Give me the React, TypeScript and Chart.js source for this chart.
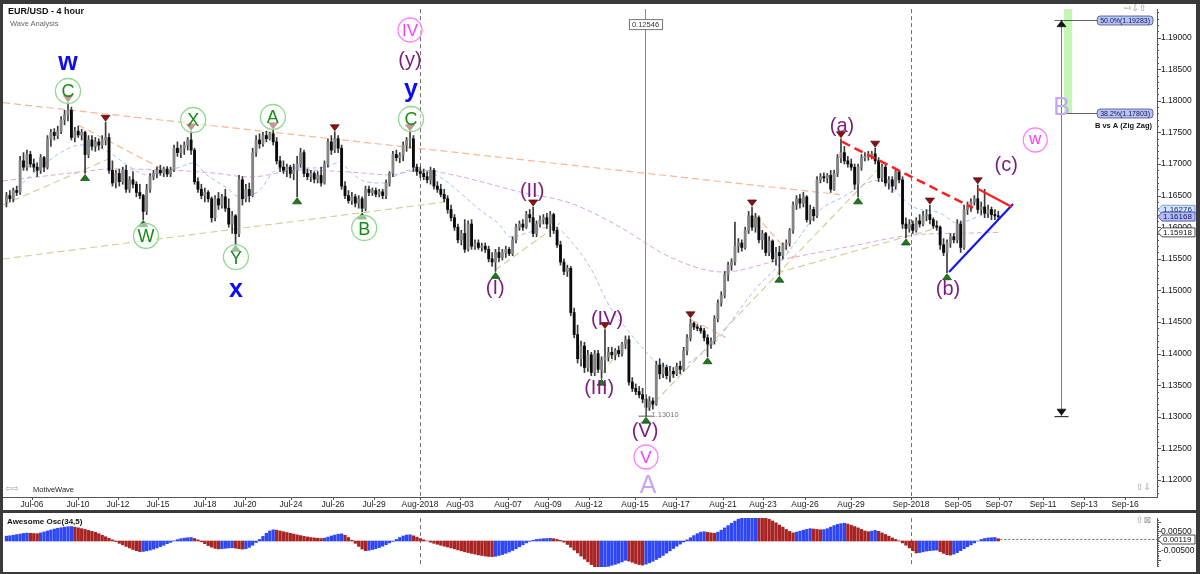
import React, { useEffect, useRef } from 'react';
import { Chart, registerables } from 'chart.js';

Chart.register(...registerables);

const FONT = "'Liberation Sans', Arial, Helvetica, sans-serif";
const ICON_FONT = "'DejaVu Sans', sans-serif";

// ---------------- DATA ----------------
// EUR/USD 4-hour candles: [open, high, low, close]
const candles: number[][] = [
  [1.1640, 1.1655, 1.1632, 1.1650], [1.1650, 1.1658, 1.1640, 1.1645], [1.1645, 1.1662, 1.1640, 1.1658], [1.1658, 1.1665, 1.1650, 1.1655],
  [1.1655, 1.1712, 1.1652, 1.1705], [1.1705, 1.1718, 1.1690, 1.1695], [1.1695, 1.1722, 1.1690, 1.1715], [1.1715, 1.1720, 1.1695, 1.1700],
  [1.1700, 1.1708, 1.1688, 1.1695], [1.1695, 1.1702, 1.1680, 1.1690], [1.1690, 1.1715, 1.1685, 1.1710], [1.1710, 1.1712, 1.1688, 1.1695],
  [1.1695, 1.1745, 1.1692, 1.1740], [1.1740, 1.1755, 1.1728, 1.1750], [1.1750, 1.1756, 1.1738, 1.1745], [1.1745, 1.1760, 1.1740, 1.1752],
  [1.1752, 1.1775, 1.1748, 1.1770], [1.1770, 1.1785, 1.1762, 1.1778], [1.1778, 1.1797, 1.1768, 1.1785], [1.1785, 1.1790, 1.1738, 1.1742],
  [1.1742, 1.1758, 1.1735, 1.1752], [1.1752, 1.1760, 1.1742, 1.1746], [1.1746, 1.1755, 1.1738, 1.1750], [1.1750, 1.1752, 1.1685, 1.1715],
  [1.1715, 1.1745, 1.1710, 1.1738], [1.1738, 1.1745, 1.1722, 1.1728], [1.1728, 1.1742, 1.1720, 1.1735], [1.1735, 1.1740, 1.1722, 1.1730],
  [1.1730, 1.1745, 1.1725, 1.1738], [1.1738, 1.1766, 1.1730, 1.1742], [1.1742, 1.1748, 1.1685, 1.1690], [1.1690, 1.1705, 1.1665, 1.1670],
  [1.1670, 1.1690, 1.1662, 1.1685], [1.1685, 1.1692, 1.1665, 1.1672], [1.1672, 1.1695, 1.1668, 1.1690], [1.1690, 1.1698, 1.1655, 1.1660],
  [1.1660, 1.1680, 1.1655, 1.1675], [1.1675, 1.1688, 1.1662, 1.1668], [1.1668, 1.1672, 1.1648, 1.1655], [1.1655, 1.1668, 1.1645, 1.1650],
  [1.1650, 1.1652, 1.1612, 1.1625], [1.1625, 1.1668, 1.1620, 1.1660], [1.1660, 1.1685, 1.1655, 1.1680], [1.1680, 1.1690, 1.1675, 1.1685],
  [1.1685, 1.1695, 1.1678, 1.1690], [1.1690, 1.1698, 1.1682, 1.1686], [1.1686, 1.1695, 1.1680, 1.1692], [1.1692, 1.1696, 1.1680, 1.1684],
  [1.1684, 1.1695, 1.1680, 1.1690], [1.1690, 1.1730, 1.1688, 1.1725], [1.1725, 1.1735, 1.1712, 1.1718], [1.1718, 1.1730, 1.1710, 1.1725],
  [1.1725, 1.1735, 1.1715, 1.1730], [1.1730, 1.1742, 1.1722, 1.1738], [1.1738, 1.1752, 1.1715, 1.1722], [1.1722, 1.1725, 1.1668, 1.1672],
  [1.1672, 1.1678, 1.1655, 1.1660], [1.1660, 1.1668, 1.1645, 1.1650], [1.1650, 1.1662, 1.1640, 1.1655], [1.1655, 1.1658, 1.1640, 1.1645],
  [1.1645, 1.1648, 1.1608, 1.1615], [1.1615, 1.1650, 1.1610, 1.1645], [1.1645, 1.1655, 1.1628, 1.1635], [1.1635, 1.1652, 1.1630, 1.1648],
  [1.1648, 1.1660, 1.1625, 1.1630], [1.1630, 1.1645, 1.1600, 1.1605], [1.1605, 1.1625, 1.1590, 1.1618], [1.1618, 1.1620, 1.1573, 1.1590],
  [1.1590, 1.1682, 1.1585, 1.1675], [1.1675, 1.1680, 1.1635, 1.1645], [1.1645, 1.1668, 1.1640, 1.1660], [1.1660, 1.1670, 1.1640, 1.1650],
  [1.1650, 1.1725, 1.1648, 1.1718], [1.1718, 1.1745, 1.1712, 1.1738], [1.1738, 1.1748, 1.1725, 1.1732], [1.1732, 1.1750, 1.1728, 1.1745],
  [1.1745, 1.1752, 1.1735, 1.1740], [1.1740, 1.1750, 1.1738, 1.1748], [1.1748, 1.1754, 1.1730, 1.1735], [1.1735, 1.1742, 1.1700, 1.1705],
  [1.1705, 1.1712, 1.1688, 1.1695], [1.1695, 1.1705, 1.1685, 1.1690], [1.1690, 1.1700, 1.1680, 1.1695], [1.1695, 1.1698, 1.1678, 1.1685],
  [1.1685, 1.1700, 1.1675, 1.1690], [1.1690, 1.1712, 1.1648, 1.1700], [1.1700, 1.1725, 1.1695, 1.1718], [1.1718, 1.1722, 1.1680, 1.1685],
  [1.1685, 1.1692, 1.1675, 1.1680], [1.1680, 1.1690, 1.1672, 1.1685], [1.1685, 1.1688, 1.1670, 1.1676], [1.1676, 1.1688, 1.1670, 1.1682],
  [1.1682, 1.1695, 1.1665, 1.1670], [1.1670, 1.1705, 1.1668, 1.1700], [1.1700, 1.1740, 1.1695, 1.1735], [1.1735, 1.1745, 1.1715, 1.1722],
  [1.1722, 1.1751, 1.1718, 1.1740], [1.1740, 1.1745, 1.1718, 1.1725], [1.1725, 1.1730, 1.1660, 1.1665], [1.1665, 1.1672, 1.1645, 1.1650],
  [1.1650, 1.1658, 1.1638, 1.1642], [1.1642, 1.1655, 1.1636, 1.1648], [1.1648, 1.1652, 1.1632, 1.1638], [1.1638, 1.1650, 1.1630, 1.1645],
  [1.1645, 1.1648, 1.1624, 1.1630], [1.1630, 1.1665, 1.1626, 1.1660], [1.1660, 1.1665, 1.1650, 1.1655], [1.1655, 1.1662, 1.1650, 1.1658],
  [1.1658, 1.1662, 1.1648, 1.1652], [1.1652, 1.1660, 1.1648, 1.1656], [1.1656, 1.1660, 1.1645, 1.1650], [1.1650, 1.1675, 1.1645, 1.1670],
  [1.1670, 1.1688, 1.1665, 1.1685], [1.1685, 1.1720, 1.1680, 1.1715], [1.1715, 1.1722, 1.1705, 1.1710], [1.1710, 1.1718, 1.1702, 1.1714],
  [1.1714, 1.1735, 1.1705, 1.1730], [1.1730, 1.1742, 1.1720, 1.1738], [1.1738, 1.1751, 1.1725, 1.1740], [1.1740, 1.1745, 1.1688, 1.1695],
  [1.1695, 1.1700, 1.1682, 1.1688], [1.1688, 1.1695, 1.1678, 1.1685], [1.1685, 1.1692, 1.1675, 1.1680], [1.1680, 1.1688, 1.1670, 1.1675],
  [1.1675, 1.1695, 1.1668, 1.1690], [1.1690, 1.1693, 1.1660, 1.1665], [1.1665, 1.1672, 1.1655, 1.1660], [1.1660, 1.1668, 1.1648, 1.1652],
  [1.1652, 1.1660, 1.1640, 1.1645], [1.1645, 1.1650, 1.1622, 1.1628], [1.1628, 1.1635, 1.1610, 1.1615], [1.1615, 1.1620, 1.1595, 1.1600],
  [1.1600, 1.1605, 1.1575, 1.1580], [1.1580, 1.1595, 1.1572, 1.1590], [1.1590, 1.1612, 1.1560, 1.1565], [1.1565, 1.1610, 1.1562, 1.1605],
  [1.1605, 1.1612, 1.1565, 1.1570], [1.1570, 1.1580, 1.1565, 1.1575], [1.1575, 1.1580, 1.1565, 1.1568], [1.1568, 1.1575, 1.1562, 1.1570],
  [1.1570, 1.1575, 1.1560, 1.1565], [1.1565, 1.1570, 1.1545, 1.1550], [1.1550, 1.1560, 1.1538, 1.1545], [1.1545, 1.1565, 1.1530, 1.1560],
  [1.1560, 1.1568, 1.1545, 1.1552], [1.1552, 1.1565, 1.1548, 1.1560], [1.1560, 1.1570, 1.1552, 1.1565], [1.1565, 1.1568, 1.1555, 1.1558],
  [1.1558, 1.1585, 1.1555, 1.1580], [1.1580, 1.1605, 1.1575, 1.1600], [1.1600, 1.1610, 1.1595, 1.1605], [1.1605, 1.1612, 1.1595, 1.1600],
  [1.1600, 1.1625, 1.1598, 1.1620], [1.1620, 1.1628, 1.1608, 1.1615], [1.1615, 1.1632, 1.1585, 1.1590], [1.1590, 1.1610, 1.1585, 1.1605],
  [1.1605, 1.1618, 1.1600, 1.1612], [1.1612, 1.1620, 1.1605, 1.1615], [1.1615, 1.1622, 1.1598, 1.1605], [1.1605, 1.1625, 1.1585, 1.1620],
  [1.1620, 1.1622, 1.1590, 1.1595], [1.1595, 1.1600, 1.1568, 1.1572], [1.1572, 1.1578, 1.1540, 1.1545], [1.1545, 1.1550, 1.1525, 1.1530],
  [1.1530, 1.1540, 1.1522, 1.1535], [1.1535, 1.1538, 1.1460, 1.1465], [1.1465, 1.1472, 1.1425, 1.1430], [1.1430, 1.1445, 1.1385, 1.1392],
  [1.1392, 1.1420, 1.1380, 1.1412], [1.1412, 1.1418, 1.1370, 1.1378], [1.1378, 1.1405, 1.1372, 1.1398], [1.1398, 1.1402, 1.1365, 1.1370],
  [1.1370, 1.1405, 1.1365, 1.1400], [1.1400, 1.1405, 1.1370, 1.1375], [1.1375, 1.1395, 1.1361, 1.1390], [1.1390, 1.1438, 1.1370, 1.1395],
  [1.1395, 1.1410, 1.1388, 1.1402], [1.1402, 1.1410, 1.1392, 1.1398], [1.1398, 1.1408, 1.1390, 1.1405], [1.1405, 1.1412, 1.1395, 1.1400],
  [1.1400, 1.1418, 1.1396, 1.1415], [1.1415, 1.1428, 1.1408, 1.1422], [1.1422, 1.1428, 1.1350, 1.1355], [1.1355, 1.1362, 1.1340, 1.1345],
  [1.1345, 1.1352, 1.1335, 1.1340], [1.1340, 1.1348, 1.1330, 1.1335], [1.1335, 1.1345, 1.1322, 1.1328], [1.1328, 1.1335, 1.1301, 1.1315],
  [1.1315, 1.1332, 1.1310, 1.1325], [1.1325, 1.1330, 1.1312, 1.1320], [1.1320, 1.1388, 1.1318, 1.1382], [1.1382, 1.1392, 1.1360, 1.1368],
  [1.1368, 1.1385, 1.1362, 1.1378], [1.1378, 1.1382, 1.1360, 1.1365], [1.1365, 1.1380, 1.1355, 1.1372], [1.1372, 1.1378, 1.1362, 1.1368],
  [1.1368, 1.1385, 1.1365, 1.1380], [1.1380, 1.1388, 1.1368, 1.1375], [1.1375, 1.1410, 1.1372, 1.1405], [1.1405, 1.1430, 1.1398, 1.1425],
  [1.1425, 1.1455, 1.1420, 1.1448], [1.1448, 1.1450, 1.1438, 1.1442], [1.1442, 1.1446, 1.1436, 1.1440], [1.1440, 1.1444, 1.1432, 1.1436],
  [1.1436, 1.1440, 1.1420, 1.1425], [1.1425, 1.1430, 1.1395, 1.1415], [1.1415, 1.1425, 1.1408, 1.1420], [1.1420, 1.1460, 1.1415, 1.1455],
  [1.1455, 1.1485, 1.1450, 1.1480], [1.1480, 1.1498, 1.1475, 1.1492], [1.1492, 1.1530, 1.1488, 1.1525], [1.1525, 1.1545, 1.1515, 1.1540],
  [1.1540, 1.1550, 1.1532, 1.1545], [1.1545, 1.1608, 1.1540, 1.1570], [1.1570, 1.1582, 1.1560, 1.1575], [1.1575, 1.1580, 1.1562, 1.1568],
  [1.1568, 1.1600, 1.1565, 1.1595], [1.1595, 1.1625, 1.1590, 1.1618], [1.1618, 1.1632, 1.1595, 1.1600], [1.1600, 1.1622, 1.1592, 1.1615],
  [1.1615, 1.1618, 1.1575, 1.1580], [1.1580, 1.1595, 1.1565, 1.1590], [1.1590, 1.1592, 1.1555, 1.1560], [1.1560, 1.1585, 1.1555, 1.1578],
  [1.1578, 1.1580, 1.1545, 1.1550], [1.1550, 1.1568, 1.1540, 1.1560], [1.1560, 1.1570, 1.1524, 1.1555], [1.1555, 1.1575, 1.1550, 1.1572],
  [1.1572, 1.1580, 1.1565, 1.1575], [1.1575, 1.1598, 1.1570, 1.1595], [1.1595, 1.1640, 1.1590, 1.1635], [1.1635, 1.1650, 1.1628, 1.1645],
  [1.1645, 1.1652, 1.1630, 1.1638], [1.1638, 1.1655, 1.1632, 1.1648], [1.1648, 1.1650, 1.1608, 1.1612], [1.1612, 1.1635, 1.1605, 1.1628],
  [1.1628, 1.1632, 1.1610, 1.1618], [1.1618, 1.1680, 1.1615, 1.1675], [1.1675, 1.1685, 1.1670, 1.1680], [1.1680, 1.1686, 1.1672, 1.1678],
  [1.1678, 1.1685, 1.1670, 1.1682], [1.1682, 1.1690, 1.1655, 1.1660], [1.1660, 1.1690, 1.1658, 1.1685], [1.1685, 1.1715, 1.1680, 1.1710],
  [1.1710, 1.1740, 1.1702, 1.1718], [1.1718, 1.1728, 1.1700, 1.1705], [1.1705, 1.1712, 1.1695, 1.1700], [1.1700, 1.1708, 1.1690, 1.1695],
  [1.1695, 1.1700, 1.1660, 1.1668], [1.1668, 1.1700, 1.1648, 1.1695], [1.1695, 1.1715, 1.1690, 1.1710], [1.1710, 1.1718, 1.1705, 1.1712],
  [1.1712, 1.1720, 1.1706, 1.1714], [1.1714, 1.1720, 1.1708, 1.1716], [1.1716, 1.1725, 1.1700, 1.1705], [1.1705, 1.1710, 1.1672, 1.1678],
  [1.1678, 1.1700, 1.1672, 1.1695], [1.1695, 1.1698, 1.1665, 1.1670], [1.1670, 1.1680, 1.1660, 1.1675], [1.1675, 1.1680, 1.1655, 1.1665],
  [1.1665, 1.1692, 1.1660, 1.1688], [1.1688, 1.1690, 1.1670, 1.1675], [1.1675, 1.1680, 1.1598, 1.1605], [1.1605, 1.1615, 1.1583, 1.1598],
  [1.1598, 1.1612, 1.1592, 1.1605], [1.1605, 1.1610, 1.1590, 1.1595], [1.1595, 1.1615, 1.1592, 1.1610], [1.1610, 1.1620, 1.1600, 1.1605],
  [1.1605, 1.1625, 1.1602, 1.1618], [1.1618, 1.1628, 1.1610, 1.1620], [1.1620, 1.1635, 1.1605, 1.1612], [1.1612, 1.1615, 1.1598, 1.1602],
  [1.1602, 1.1610, 1.1595, 1.1600], [1.1600, 1.1602, 1.1565, 1.1572], [1.1572, 1.1582, 1.1555, 1.1560], [1.1560, 1.1580, 1.1528, 1.1575],
  [1.1575, 1.1590, 1.1568, 1.1585], [1.1585, 1.1590, 1.1575, 1.1580], [1.1580, 1.1612, 1.1575, 1.1605], [1.1605, 1.1610, 1.1560, 1.1568],
  [1.1568, 1.1635, 1.1565, 1.1628], [1.1628, 1.1640, 1.1620, 1.1632], [1.1632, 1.1645, 1.1625, 1.1640], [1.1640, 1.1650, 1.1635, 1.1645],
  [1.1645, 1.1667, 1.1622, 1.1628], [1.1628, 1.1640, 1.1620, 1.1632], [1.1632, 1.1660, 1.1615, 1.1622], [1.1622, 1.1635, 1.1615, 1.1628],
  [1.1628, 1.1632, 1.1612, 1.1620], [1.1620, 1.1628, 1.1612, 1.1618], [1.1618, 1.1625, 1.1612, 1.16168],
];

// Awesome Oscillator (34,5), one value per candle
const aoValues: number[] = [
  0.0025, 0.0027, 0.0030, 0.0033, 0.0036, 0.0039, 0.0041, 0.0040, 0.0039, 0.0038,
  0.0042, 0.0047, 0.0052, 0.0057, 0.0062, 0.0066, 0.0069, 0.0072, 0.0074, 0.0075,
  0.0072, 0.0068, 0.0064, 0.0060, 0.0055, 0.0050, 0.0045, 0.0038, 0.0030, 0.0022,
  0.0014, 0.0006, -0.0003, -0.0012, -0.0020, -0.0028, -0.0036, -0.0044, -0.0050, -0.0055,
  -0.0054, -0.0051, -0.0047, -0.0042, -0.0036, -0.0029, -0.0022, -0.0014, -0.0007, 0.0001,
  0.0007, 0.0012, 0.0015, 0.0017, 0.0018, 0.0013, 0.0006, -0.0004, -0.0014, -0.0024,
  -0.0032, -0.0038, -0.0041, -0.0040, -0.0038, -0.0036, -0.0035, -0.0037, -0.0040, -0.0042,
  -0.0040, -0.0033, -0.0022, -0.0008, 0.0008, 0.0024, 0.0040, 0.0052, 0.0058, 0.0056,
  0.0052, 0.0048, 0.0044, 0.0040, 0.0036, 0.0032, 0.0028, 0.0024, 0.0021, 0.0018,
  0.0016, 0.0014, 0.0013, 0.0015, 0.0020, 0.0026, 0.0031, 0.0035, 0.0037, 0.0030,
  0.0018, 0.0004, -0.0012, -0.0028, -0.0042, -0.0050, -0.0048, -0.0044, -0.0040, -0.0034,
  -0.0027, -0.0019, -0.0010, -0.0002, 0.0008, 0.0018, 0.0026, 0.0031, 0.0032, 0.0027,
  0.0020, 0.0013, 0.0006, 0.0000, -0.0006, -0.0012, -0.0017, -0.0022, -0.0027, -0.0031,
  -0.0036, -0.0041, -0.0046, -0.0051, -0.0056, -0.0060, -0.0064, -0.0068, -0.0072, -0.0075,
  -0.0078, -0.0080, -0.0081, -0.0079, -0.0075, -0.0070, -0.0064, -0.0057, -0.0049, -0.0040,
  -0.0030, -0.0020, -0.0010, -0.0002, 0.0004, 0.0008, 0.0010, 0.0012, 0.0013, 0.0014,
  0.0012, 0.0008, 0.0003, -0.0006, -0.0018, -0.0032, -0.0047, -0.0062, -0.0078, -0.0094,
  -0.0108, -0.0122, -0.0134, -0.0142, -0.0140, -0.0136, -0.0131, -0.0126, -0.0121, -0.0115,
  -0.0108, -0.0100, -0.0104, -0.0110, -0.0117, -0.0122, -0.0125, -0.0120, -0.0113, -0.0105,
  -0.0096, -0.0086, -0.0075, -0.0063, -0.0051, -0.0039, -0.0027, -0.0016, -0.0005, 0.0006,
  0.0017, 0.0028, 0.0038, 0.0046, 0.0048, 0.0045, 0.0042, 0.0040, 0.0046, 0.0056,
  0.0068, 0.0080, 0.0092, 0.0103, 0.0113, 0.0121, 0.0128, 0.0133, 0.0137, 0.0138,
  0.0134, 0.0128, 0.0121, 0.0113, 0.0104, 0.0094, 0.0083, 0.0072, 0.0060, 0.0050,
  0.0042, 0.0046, 0.0051, 0.0056, 0.0060, 0.0064, 0.0062, 0.0060, 0.0058, 0.0059,
  0.0064, 0.0072, 0.0080, 0.0086, 0.0090, 0.0092, 0.0088, 0.0082, 0.0075, 0.0068,
  0.0060, 0.0052, 0.0048, 0.0051, 0.0055, 0.0050, 0.0042, 0.0034, 0.0025, 0.0016,
  0.0008, 0.0001, -0.0010, -0.0022, -0.0036, -0.0050, -0.0062, -0.0060, -0.0056, -0.0052,
  -0.0050, -0.0048, -0.0047, -0.0055, -0.0064, -0.0071, -0.0073, -0.0068, -0.0060, -0.0050,
  -0.0040, -0.0030, -0.0020, -0.0010, 0.0000, 0.0008, 0.0013, 0.0016, 0.0017, 0.0018, 0.00119,
];

// moving averages: [candle index, price]
const fastMa: number[][] = [
  [0, 1.16478], [4, 1.16668], [9.8, 1.16937], [15.7, 1.17174], [21.5, 1.17301], [24.4, 1.17301], [30.3, 1.17174],
  [36.1, 1.16953], [41.1, 1.16827], [44.9, 1.16858], [50.8, 1.16953], [54.6, 1.17016], [58.6, 1.16827], [64.5, 1.1662],
  [68.3, 1.16478], [74.1, 1.16589], [78, 1.16873], [80.9, 1.16937], [87.9, 1.16937], [93.7, 1.16953], [97.5, 1.17032],
  [100.5, 1.16873], [105.4, 1.16715], [110.1, 1.16699], [114.2, 1.16827], [118, 1.16905], [123, 1.16873], [126.8, 1.16794],
  [131.7, 1.16589], [138.5, 1.16272], [144.3, 1.16035], [147.2, 1.15845], [153.1, 1.15924], [158.9, 1.16003], [161.9, 1.15956],
  [164.8, 1.15797], [170.6, 1.1537], [176.5, 1.14737], [182.3, 1.14326], [187.3, 1.14009], [190.2, 1.13851], [196.1, 1.13788],
  [201.9, 1.13946], [207.8, 1.14215], [213.6, 1.14642], [219.5, 1.15053], [225.3, 1.1537], [231.2, 1.15797], [237.9, 1.16272],
  [244.6, 1.16478], [251.6, 1.16699], [255.4, 1.16747], [260.4, 1.16541], [265.1, 1.1632], [273, 1.16225], [278, 1.16066],
  [284.7, 1.1618], [290, 1.16276],
];
const slowMa: number[][] = [
  [-1, 1.16731], [21.5, 1.16873], [30.3, 1.16921], [47, 1.16905], [60.4, 1.16858], [71.2, 1.16794], [85.8, 1.16905],
  [100.5, 1.16873], [112.2, 1.16827], [120.9, 1.16905], [130.6, 1.16827], [150.2, 1.16557], [164.8, 1.16383],
  [179.4, 1.16003], [194, 1.15528], [209.5, 1.15291], [226.2, 1.15481], [245.8, 1.15687], [265.1, 1.15877],
  [281.7, 1.15908], [290, 1.15918],
];

const dateTickIdx = [7.48, 20.93, 32.63, 44.32, 58.06, 69.76, 83.21, 95.49, 107.48, 120.93, 132.63, 146.66, 158.36,
  170.35, 183.8, 195.78, 209.53, 221.22, 233.5, 246.95, 264.5, 278.24, 290.23, 303.09, 315.08, 327.07];
const dateTickLabels = ['Jul-06', 'Jul-10', 'Jul-12', 'Jul-15', 'Jul-18', 'Jul-20', 'Jul-24', 'Jul-26', 'Jul-29',
  'Aug-2018', 'Aug-03', 'Aug-07', 'Aug-09', 'Aug-12', 'Aug-15', 'Aug-17', 'Aug-21', 'Aug-23', 'Aug-26', 'Aug-29',
  'Sep-2018', 'Sep-05', 'Sep-07', 'Sep-11', 'Sep-13', 'Sep-16'];
const monthBreaks = ['Aug-2018', 'Sep-2018'];
const priceTicks = [1.12, 1.125, 1.13, 1.135, 1.14, 1.145, 1.15, 1.155, 1.16, 1.165, 1.17, 1.175, 1.18, 1.185, 1.19];
const aoTicks = [-0.005, 0.005];

const swingHighIdx = [18, 29, 54, 78, 96, 118, 154, 175, 200, 218, 244, 254, 270, 284];
const swingLowIdx = [23, 40, 67, 85, 104, 143, 174, 187, 205, 226, 249, 263, 275];

const orangeTrendLines: number[][][] = [
  [[-1, 1.1797], [243.7, 1.16516]],
  [[20.9, 1.17617], [47.8, 1.16858]],
  [[200.5, 1.14526], [210.3, 1.14257]],
  [[218.9, 1.16193], [230.0, 1.15528]],
];
const tanTrendLines: number[][][] = [
  [[-1, 1.15497], [128.2, 1.16399]],
  [[-1, 1.16351], [31.2, 1.17111]],
  [[142.9, 1.15322], [161.9, 1.16066]],
  [[174.1, 1.1369], [180.0, 1.14101]],
  [[187.3, 1.13106], [254.6, 1.16903]],
  [[225.3, 1.15275], [272.1, 1.15987]],
];
const redDashedLine = [[244.3, 1.17353], [282.6, 1.16304]];
const redSolidLine = [[284.1, 1.16604], [294.0, 1.1632]];
const blueSolidLine = [[275.6, 1.15291], [294.3, 1.16367]];

const waveLabels = [
  { text: 'w', idx: 18.0, price: 1.18598, kind: 'blue' },
  { text: 'C', idx: 18.0, price: 1.18155, kind: 'green' },
  { text: 'X', idx: 54.6, price: 1.17696, kind: 'green' },
  { text: 'W', idx: 40.8, price: 1.15861, kind: 'green' },
  { text: 'Y', idx: 67.1, price: 1.15528, kind: 'green' },
  { text: 'x', idx: 67.1, price: 1.15006, kind: 'blue' },
  { text: 'A', idx: 77.9, price: 1.17744, kind: 'green' },
  { text: 'B', idx: 104.6, price: 1.15987, kind: 'green' },
  { text: 'C', idx: 118.3, price: 1.17712, kind: 'green' },
  { text: 'y', idx: 118.3, price: 1.18123, kind: 'blue' },
  { text: '(y)', idx: 118.0, price: 1.1863, kind: 'purple' },
  { text: 'IV', idx: 118.0, price: 1.1912, kind: 'pink' },
  { text: '(I)', idx: 142.9, price: 1.15022, kind: 'purple' },
  { text: '(II)', idx: 153.7, price: 1.16557, kind: 'purple' },
  { text: '(III)', idx: 173.3, price: 1.1344, kind: 'purple' },
  { text: '(IV)', idx: 175.6, price: 1.14532, kind: 'purple' },
  { text: '(V)', idx: 186.7, price: 1.12759, kind: 'purple' },
  { text: 'V', idx: 187.0, price: 1.12364, kind: 'pink' },
  { text: 'A', idx: 187.6, price: 1.11937, kind: 'lavender' },
  { text: '(a)', idx: 244.3, price: 1.17585, kind: 'purple' },
  { text: '(b)', idx: 275.3, price: 1.15006, kind: 'purple' },
  { text: '(c)', idx: 292.3, price: 1.16968, kind: 'purple' },
  { text: 'w', idx: 300.8, price: 1.1738, kind: 'pink' },
  { text: 'B', idx: 308.5, price: 1.17918, kind: 'lavender' },
];

const rulerIdx = 186.7;
const rulerLow = 1.1301;
const rulerText = '0.12546';
const rulerLowText = '1.13010';
const fibIdx = 308.4;
const fibLow = 1.1301;
const fibLevels = [
  { text: '50.0%(1.19283)', price: 1.19283 },
  { text: '38.2%(1.17803)', price: 1.17803 },
];
const fibZoneIdx = [309.2, 311.6];
const fibCaption = 'B vs A (Zig Zag)';

// ---------------- STYLE / LAYOUT ----------------
const labelStyles: any = {
  blue: { color: '#0c0cf2', size: 25, weight: 'bold' },
  green: { color: '#158c15', size: 18, weight: 'normal', ring: '#8fd88f', r: 12.5 },
  purple: { color: '#7c1c7c', size: 20, weight: 'normal' },
  pink: { color: '#ff3cff', size: 17, weight: 'normal', ring: '#ff80ff', r: 12 },
  lavender: { color: '#c6a4f6', size: 25, weight: 'normal' },
};

const X_MIN = -1;
const X_MAX = 336.4;
// vertical calibration: price 1.19 sits 33.6px below the plot top, 6320 px per 1.0 of price
const PRICE_REF = 1.19;
const PRICE_REF_PX = 33.6;
const PRICE_PX_PER_UNIT = 6320;
// oscillator: zero 28px below the panel top, 1930 px per 1.0
const AO_ZERO_PX = 28;
const AO_PX_PER_UNIT = 1930;

function tri(ctx: CanvasRenderingContext2D, x: number, tipY: number, up: boolean, fill: string, edge: string) {
  const h = 6, w = 4.5;
  const by = up ? tipY + h : tipY - h;
  ctx.beginPath();
  ctx.moveTo(x, tipY);
  ctx.lineTo(x - w, by);
  ctx.lineTo(x + w, by);
  ctx.closePath();
  ctx.fillStyle = fill;
  ctx.fill();
  ctx.strokeStyle = edge;
  ctx.lineWidth = 0.7;
  ctx.stroke();
}

function roundBox(ctx: CanvasRenderingContext2D, x: number, y: number, w: number, h: number, r: number) {
  ctx.beginPath();
  ctx.moveTo(x + r, y);
  ctx.lineTo(x + w - r, y);
  ctx.quadraticCurveTo(x + w, y, x + w, y + r);
  ctx.lineTo(x + w, y + h - r);
  ctx.quadraticCurveTo(x + w, y + h, x + w - r, y + h);
  ctx.lineTo(x + r, y + h);
  ctx.quadraticCurveTo(x, y + h, x, y + h - r);
  ctx.lineTo(x, y + r);
  ctx.quadraticCurveTo(x, y, x + r, y);
  ctx.closePath();
}

function flag(ctx: CanvasRenderingContext2D, x0: number, yc: number, text: string, bg: string, border: string, color: string) {
  const w = 38, h = 9;
  ctx.beginPath();
  ctx.moveTo(x0 + 1, yc);
  ctx.lineTo(x0 + 5, yc - h / 2);
  ctx.lineTo(x0 + w, yc - h / 2);
  ctx.lineTo(x0 + w, yc + h / 2);
  ctx.lineTo(x0 + 5, yc + h / 2);
  ctx.closePath();
  ctx.fillStyle = bg;
  ctx.fill();
  ctx.strokeStyle = border;
  ctx.lineWidth = 0.8;
  ctx.stroke();
  ctx.font = `8px ${FONT}`;
  ctx.fillStyle = color;
  ctx.textAlign = 'left';
  ctx.textBaseline = 'middle';
  ctx.fillText(text, x0 + 6, yc + 0.5);
}

function line(ctx: CanvasRenderingContext2D, x1: number, y1: number, x2: number, y2: number) {
  ctx.beginPath();
  ctx.moveTo(x1, y1);
  ctx.lineTo(x2, y2);
  ctx.stroke();
}

function monthLines(chart: any) {
  const { ctx, chartArea: a, scales } = chart;
  ctx.save();
  ctx.strokeStyle = '#707070';
  ctx.lineWidth = 1;
  ctx.setLineDash([4, 3]);
  monthBreaks.forEach((lbl) => {
    const i = dateTickLabels.indexOf(lbl);
    const px = Math.round(scales.x.getPixelForValue(dateTickIdx[i])) + 0.5;
    line(ctx, px, a.top, px, a.bottom);
  });
  ctx.restore();
}

function minorTicks(chart: any, from: number, to: number, step: number, majorEvery: number) {
  const { ctx, chartArea: a, scales } = chart;
  ctx.save();
  ctx.strokeStyle = '#555';
  ctx.lineWidth = 1;
  for (let k = from; k <= to; k++) {
    const v = k * step;
    if (v < scales.y.min || v > scales.y.max) continue;
    const py = Math.round(scales.y.getPixelForValue(v)) + 0.5;
    const len = k % majorEvery === 0 ? 4 : 2;
    line(ctx, a.right, py, a.right + len, py);
  }
  ctx.restore();
}

const mainPlugin = {
  id: 'mainDecor',
  beforeDatasetsDraw(chart: any) {
    const { ctx, chartArea: a, scales: { x, y } } = chart;
    monthLines(chart);
    ctx.save();
    const zx1 = x.getPixelForValue(fibZoneIdx[0]);
    const zx2 = x.getPixelForValue(fibZoneIdx[1]);
    const zy = y.getPixelForValue(fibLevels[1].price);
    ctx.fillStyle = '#c4f6b6';
    ctx.fillRect(zx1, a.top, zx2 - zx1, zy - a.top);
    ctx.restore();
  },
  afterDatasetsDraw(chart: any) {
    const { ctx, chartArea: a, scales: { x, y } } = chart;
    ctx.save();
    swingHighIdx.forEach((i) => {
      tri(ctx, x.getPixelForValue(i), y.getPixelForValue(candles[i][1]) - 1, false, '#8a1212', '#4a0808');
    });
    swingLowIdx.forEach((i) => {
      tri(ctx, x.getPixelForValue(i), y.getPixelForValue(candles[i][2]) + 1, true, '#1c7a1c', '#0c400c');
    });

    // vertical ruler
    const mx = Math.round(x.getPixelForValue(rulerIdx)) + 0.5;
    const myLow = y.getPixelForValue(rulerLow);
    ctx.strokeStyle = '#8c8c8c';
    ctx.lineWidth = 1;
    line(ctx, mx, a.top, mx, myLow);
    ctx.strokeStyle = '#555';
    line(ctx, mx - 7, myLow, mx + 7, myLow);
    ctx.font = `7.5px ${FONT}`;
    ctx.fillStyle = '#777';
    ctx.textAlign = 'left';
    ctx.textBaseline = 'middle';
    ctx.fillText(rulerLowText, mx + 6, myLow - 1);
    const rw = ctx.measureText(rulerText).width + 6;
    ctx.fillStyle = '#fff';
    ctx.fillRect(mx - rw / 2, a.top + 10, rw, 10);
    ctx.strokeStyle = '#777';
    ctx.strokeRect(mx - rw / 2 + 0.5, a.top + 10.5, rw, 10);
    ctx.fillStyle = '#333';
    ctx.textAlign = 'center';
    ctx.fillText(rulerText, mx, a.top + 15.5);

    // fib / projection tool
    const fx = Math.round(x.getPixelForValue(fibIdx)) + 0.5;
    const fyTop = y.getPixelForValue(fibLevels[0].price);
    const fyLow = y.getPixelForValue(fibLow);
    ctx.strokeStyle = '#7a7a7a';
    line(ctx, fx, fyTop, fx, fyLow);
    ctx.strokeStyle = '#111';
    line(ctx, fx - 7, fyLow + 0.5, fx + 7, fyLow + 0.5);
    tri(ctx, fx, fyLow - 1, false, '#111', '#111');
    tri(ctx, fx, fyTop + 1, true, '#111', '#111');
    ctx.font = `7px ${FONT}`;
    fibLevels.forEach((lv, k) => {
      const ly = Math.round(y.getPixelForValue(lv.price)) + 0.5;
      const tw = ctx.measureText(lv.text).width + 6;
      const bx = a.right - 4 - tw;
      ctx.strokeStyle = '#222';
      line(ctx, k === 0 ? fx - 7 : fx, ly, bx, ly);
      roundBox(ctx, bx, ly - 4.5, tw, 9, 3);
      ctx.fillStyle = '#b6c4f2';
      ctx.fill();
      ctx.strokeStyle = '#34347c';
      ctx.stroke();
      ctx.fillStyle = '#14145a';
      ctx.textAlign = 'center';
      ctx.textBaseline = 'middle';
      ctx.fillText(lv.text, bx + tw / 2, ly + 0.5);
    });
    ctx.font = `bold 7.5px ${FONT}`;
    ctx.fillStyle = '#111';
    ctx.textAlign = 'right';
    ctx.fillText(fibCaption, a.right - 5, y.getPixelForValue(fibLevels[1].price) + 13);

    // wave labels
    waveLabels.forEach((l) => {
      const st = labelStyles[l.kind];
      const px = x.getPixelForValue(l.idx);
      const py = y.getPixelForValue(l.price);
      if (st.ring) {
        ctx.beginPath();
        ctx.arc(px, py, st.r, 0, Math.PI * 2);
        ctx.fillStyle = 'rgba(255,255,255,0.55)';
        ctx.fill();
        ctx.strokeStyle = st.ring;
        ctx.lineWidth = 1.3;
        ctx.stroke();
      }
      let c = 0.36;
      if (l.text.includes('(')) c = 0.26;
      else if (l.text === 'y') c = 0.16;
      else if (l.text === l.text.toLowerCase()) c = 0.26;
      ctx.font = `${st.weight} ${st.size}px ${FONT}`;
      ctx.fillStyle = st.color;
      ctx.textAlign = 'center';
      ctx.textBaseline = 'alphabetic';
      ctx.fillText(l.text, px, py + c * st.size);
    });
    ctx.restore();
  },
  afterDraw(chart: any) {
    const { ctx, chartArea: a, scales: { y } } = chart;
    minorTicks(chart, 1110, 1200, 0.001, 5);
    ctx.save();
    const slowLast = slowMa[slowMa.length - 1][1];
    const fastLast = fastMa[fastMa.length - 1][1];
    const closeLast = candles[candles.length - 1][3];
    flag(ctx, a.right, y.getPixelForValue(slowLast), slowLast.toFixed(5), '#ffffff', '#222', '#111');
    flag(ctx, a.right, y.getPixelForValue(fastLast), fastLast.toFixed(5), '#cfe2ff', '#6a8ac8', '#203060');
    flag(ctx, a.right, y.getPixelForValue(closeLast), closeLast.toFixed(5), '#b4bdf6', '#3a3a9a', '#121260');
    ctx.restore();
  },
};

const aoPlugin = {
  id: 'aoDecor',
  beforeDatasetsDraw(chart: any) {
    monthLines(chart);
  },
  afterDraw(chart: any) {
    const { ctx, chartArea: a, scales: { x, y } } = chart;
    minorTicks(chart, -20, 20, 0.001, 5);
    ctx.save();
    const last = aoValues[aoValues.length - 1];
    const ly = Math.round(y.getPixelForValue(last)) + 0.5;
    ctx.strokeStyle = '#666';
    ctx.lineWidth = 1;
    ctx.setLineDash([2, 2]);
    line(ctx, x.getPixelForValue(aoValues.length - 1) + 2, ly, a.right, ly);
    ctx.setLineDash([]);
    flag(ctx, a.right, ly, last.toFixed(5), '#ffffff', '#222', '#111');
    ctx.restore();
  },
};

const baseX = (display: boolean) => ({
  type: 'linear',
  min: X_MIN,
  max: X_MAX,
  offset: false,
  display,
  afterBuildTicks: (s: any) => {
    s.ticks = dateTickIdx.map((v) => ({ value: v }));
  },
  afterFit: (s: any) => {
    s.height = display ? 13 : 0;
  },
  ticks: {
    autoSkip: false,
    maxRotation: 0,
    minRotation: 0,
    padding: 0,
    color: '#222',
    font: { size: 8.5, family: FONT },
    callback: (_v: any, i: number) => dateTickLabels[i] ?? '',
  },
  grid: { display: true, drawOnChartArea: false, drawTicks: true, tickLength: 3, tickColor: '#555', offset: false },
  border: { display: true, color: '#555' },
});

// right-hand value axis; unlabeled edge ticks keep Chart.js from adding label padding at the edges
const valueAxis = (min: number, max: number, labelled: number[]) => ({
  type: 'linear',
  position: 'right',
  min,
  max,
  afterBuildTicks: (s: any) => {
    s.ticks = [{ value: s.min }, ...labelled.map((v) => ({ value: v })), { value: s.max }];
  },
  afterFit: (s: any) => {
    s.width = 39;
  },
  ticks: {
    padding: 0,
    color: '#111',
    font: { size: 8.5, family: FONT },
    callback: (v: any) => (labelled.includes(v) ? Number(v).toFixed(5) : null),
  },
  grid: { display: true, drawOnChartArea: false, drawTicks: true, tickLength: 4, tickColor: 'rgba(0,0,0,0)' },
  border: { display: true, color: '#555' },
});

export default function App() {
  const mainRef = useRef<HTMLCanvasElement>(null);
  const aoRef = useRef<HTMLCanvasElement>(null);

  useEffect(() => {
    document.body.style.margin = '0';
    Chart.defaults.font.family = FONT;

    const bodyData = candles.map((c, i) => ({ x: i, y: [c[0], c[3]] }));
    const wickData = candles.map((c, i) => ({ x: i, y: [c[2], c[1]] }));
    const bodyColors = candles.map((c) => (c[3] >= c[0] ? '#858585' : '#0a0a0a'));

    const lineDs = (pts: number[][], color: string, width: number, dash: number[], order: number, tension = 0) => ({
      type: 'line',
      data: pts.map(([px, py]) => ({ x: px, y: py })),
      borderColor: color,
      borderWidth: width,
      borderDash: dash,
      pointRadius: 0,
      fill: false,
      tension,
      cubicInterpolationMode: tension ? 'monotone' : 'default',
      order,
    });

    const main = new Chart(mainRef.current as HTMLCanvasElement, {
      type: 'bar',
      data: {
        datasets: [
          lineDs(redDashedLine, '#ff1e1e', 2.5, [9, 5], 0),
          lineDs(redSolidLine, '#ff1e1e', 2.2, [], 0),
          lineDs(blueSolidLine, '#1414ff', 2.2, [], 0),
          { type: 'bar', data: bodyData, backgroundColor: bodyColors, barThickness: 2.2, grouped: false, order: 1 },
          { type: 'bar', data: wickData, backgroundColor: '#3a3a3a', barThickness: 1, grouped: false, order: 2 },
          lineDs(fastMa, '#a3bff6', 1, [4, 3], 3, 0.4),
          lineDs(slowMa, '#d7a6e6', 1, [5, 3], 3, 0.4),
          ...orangeTrendLines.map((l) => lineDs(l, '#f9b690', 1.2, [7, 4], 4)),
          ...tanTrendLines.map((l) => lineDs(l, '#d6cf9c', 1.2, [7, 4], 4)),
        ] as any,
      },
      options: {
        animation: false,
        responsive: false,
        maintainAspectRatio: false,
        events: [],
        layout: { padding: 0, autoPadding: false },
        plugins: { legend: { display: false }, tooltip: { enabled: false } },
        scales: {
          x: baseX(true) as any,
          y: valueAxis(1.1173, 1.1953, priceTicks) as any,
        },
      },
      plugins: [mainPlugin],
    });

    const aoColors = aoValues.map((v, i) => (i > 0 && v < aoValues[i - 1] ? '#a82424' : '#2e46f4'));
    const ao = new Chart(aoRef.current as HTMLCanvasElement, {
      type: 'bar',
      data: {
        datasets: [
          {
            data: aoValues.map((v, i) => ({ x: i, y: v })),
            backgroundColor: aoColors,
            barThickness: 2.6,
            grouped: false,
          },
        ] as any,
      },
      options: {
        animation: false,
        responsive: false,
        maintainAspectRatio: false,
        events: [],
        layout: { padding: 0, autoPadding: false },
        plugins: { legend: { display: false }, tooltip: { enabled: false } },
        scales: {
          x: baseX(false) as any,
          y: valueAxis(-0.0155, 0.0145, aoTicks) as any,
        },
      },
      plugins: [aoPlugin],
    });

    // calibrate value ranges to the laid-out plot areas so the vertical scale matches the reference
    const ma = main.chartArea;
    const my: any = main.options.scales!.y;
    my.max = PRICE_REF + (PRICE_REF_PX - ma.top) / PRICE_PX_PER_UNIT;
    my.min = PRICE_REF - (ma.bottom - PRICE_REF_PX) / PRICE_PX_PER_UNIT;
    main.update();

    const aa = ao.chartArea;
    const ay: any = ao.options.scales!.y;
    ay.max = (AO_ZERO_PX - aa.top) / AO_PX_PER_UNIT;
    ay.min = -(aa.bottom - AO_ZERO_PX) / AO_PX_PER_UNIT;
    ao.update();

    return () => {
      main.destroy();
      ao.destroy();
    };
  }, []);

  const abs = (extra: any) => ({ position: 'absolute', whiteSpace: 'nowrap', lineHeight: 1, ...extra });

  return (
    <div style={{ position: 'fixed', left: 0, top: 0, width: 1200, height: 574, background: '#3a3a3a', overflow: 'hidden' }}>
      <div style={abs({ left: 3, top: 4, width: 1193, height: 506, background: '#fff' })} />
      <div style={abs({ left: 3, top: 513, width: 1193, height: 59, background: '#fff' })} />
      <canvas ref={mainRef} width={1193} height={506} style={{ position: 'absolute', left: 3, top: 4, display: 'block' }} />
      <canvas ref={aoRef} width={1193} height={59} style={{ position: 'absolute', left: 3, top: 513, display: 'block' }} />
      <div style={abs({ left: 8, top: 6, font: `bold 9px ${FONT}`, color: '#111' })}>EUR/USD - 4 hour</div>
      <div style={abs({ left: 10, top: 19.3, font: `7.5px ${FONT}`, color: '#666' })}>Wave Analysis</div>
      <div style={abs({ left: 5, top: 484, font: `8px ${ICON_FONT}`, color: '#9a9a9a' })}>⇦⇨</div>
      <div style={abs({ left: 33, top: 485.3, font: `7.5px ${FONT}`, color: '#222' })}>MotiveWave</div>
      <div style={abs({ left: 1124, top: 3, font: `9px ${ICON_FONT}`, color: '#9a9a9a' })}>⇨⇩⇧</div>
      <div style={abs({ left: 1136, top: 482, font: `9px ${ICON_FONT}`, color: '#9a9a9a' })}>⇧⇩</div>
      <div style={abs({ left: 7, top: 516.8, font: `bold 8px ${FONT}`, color: '#111' })}>Awesome Osc(34,5)</div>
      <div style={abs({ left: 1136, top: 515, font: `9px ${ICON_FONT}`, color: '#9a9a9a' })}>⇧⊠</div>
    </div>
  );
}
